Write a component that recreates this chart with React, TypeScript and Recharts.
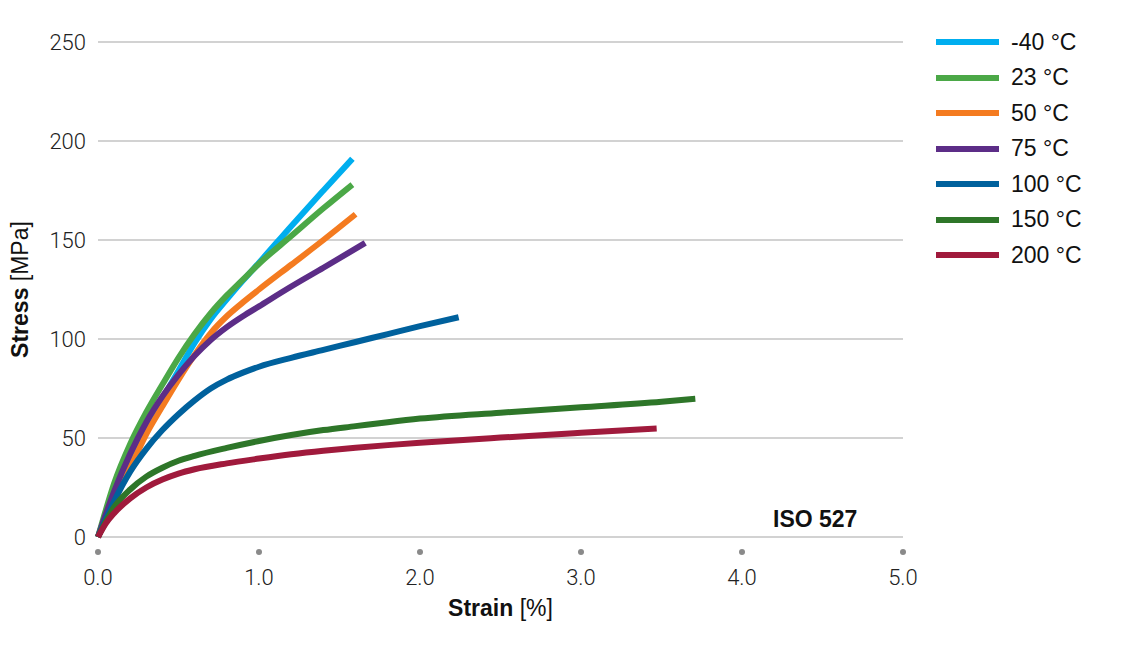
import { LineChart, Line, XAxis, YAxis, CartesianGrid } from "recharts"

const temps = ["-40 °C", "23 °C", "50 °C", "75 °C", "100 °C", "150 °C", "200 °C"]
const colors = ["#00AEEF", "#4BA847", "#F47B20", "#5C2D87", "#00619D", "#2E7629", "#A01A3C"]

// [strain %, stress MPa]
const m40 = [[0, 0], [0.1, 22], [0.2, 40], [0.3, 56], [0.4, 70], [0.5, 84], [0.6, 98], [0.7, 110], [0.8, 120], [0.9, 129.5], [1.0, 138.5], [1.2, 157], [1.4, 175], [1.58, 191]]
const p23 = [[0, 0], [0.05, 14], [0.1, 27], [0.2, 47], [0.3, 63], [0.4, 77], [0.5, 90.5], [0.6, 102.5], [0.7, 113], [0.8, 122], [0.9, 130], [1.0, 138], [1.2, 152], [1.4, 166], [1.58, 178]]
const p50 = [[0, 0], [0.1, 18], [0.2, 35], [0.3, 52], [0.4, 66], [0.5, 79.5], [0.6, 92], [0.7, 103], [0.8, 111.5], [0.9, 118.5], [1.0, 125], [1.2, 137.5], [1.4, 150], [1.6, 163]]
const p75 = [[0, 0], [0.1, 23], [0.2, 42], [0.3, 58], [0.4, 71], [0.5, 82], [0.6, 91.5], [0.7, 99.5], [0.8, 106], [0.9, 111.5], [1.0, 116.5], [1.2, 126.5], [1.4, 136], [1.66, 148.5]]
const p100 = [[0, 0], [0.1, 18], [0.2, 33], [0.3, 44.5], [0.4, 54], [0.5, 62], [0.6, 69], [0.7, 75], [0.8, 79.5], [0.9, 83], [1.0, 86], [1.2, 90.5], [1.4, 94.5], [1.6, 98.5], [1.8, 102.5], [2.0, 106.5], [2.24, 111]]
const p150 = [[0, 0], [0.1, 15], [0.2, 24], [0.3, 30.5], [0.4, 35], [0.5, 38.5], [0.6, 41], [0.8, 45], [1.0, 48.5], [1.2, 51.5], [1.4, 54], [1.6, 56], [1.8, 58], [2.0, 59.8], [2.5, 62.8], [3.0, 65.5], [3.5, 68.3], [3.71, 69.8]]
const p200 = [[0, 0], [0.05, 7], [0.1, 12], [0.2, 19.5], [0.3, 25], [0.4, 29], [0.5, 32], [0.6, 34.2], [0.8, 37.2], [1.0, 39.6], [1.2, 41.8], [1.4, 43.6], [1.6, 45.1], [1.8, 46.4], [2.0, 47.6], [2.5, 50.2], [3.0, 52.6], [3.47, 54.8]]

const xTicks = [0, 1, 2, 3, 4, 5]
const yTicks = [0, 50, 100, 150, 200, 250]

const series = [m40, p23, p50, p75, p100, p150, p200].map((pts, i) => ({
  name: temps[i],
  color: colors[i],
  data: pts.map(([x, y]) => ({ x, y })),
}))

const tickFont = "Roboto, 'Liberation Sans', sans-serif"
const font = "'Liberation Sans', Arial, sans-serif"

function XTick({ x, y, payload }: any) {
  return (
    <g>
      <circle cx={x} cy={y + 15} r={3} fill="#8a8a8a" />
      <text x={x} y={y + 48} textAnchor="middle" fontSize={22} fontWeight={300} fill="#222" fontFamily={tickFont}>
        {Number(payload.value).toFixed(1)}
      </text>
    </g>
  )
}

function YTick({ x, y, payload }: any) {
  return (
    <text x={x - 12} y={y} dy="0.36em" textAnchor="end" fontSize={22} fontWeight={300} fill="#222" fontFamily={tickFont}>
      {payload.value}
    </text>
  )
}

function YLabel({ viewBox }: any) {
  const cy = viewBox.y + viewBox.height / 2
  return (
    <text x={28} y={cy} transform={`rotate(-90 28 ${cy})`} textAnchor="middle" fontSize={23} fill="#111" fontFamily={font}>
      <tspan fontWeight={700}>Stress</tspan>
      <tspan> [MPa]</tspan>
    </text>
  )
}

function XLabel({ viewBox }: any) {
  const cx = viewBox.x + viewBox.width / 2
  return (
    <text x={cx} y={viewBox.y + 79} textAnchor="middle" fontSize={23} fill="#111" fontFamily={font}>
      <tspan fontWeight={700}>Strain</tspan>
      <tspan> [%]</tspan>
    </text>
  )
}

export default function App() {
  return (
    <div style={{ position: "absolute", left: 0, top: 0, width: 1146, height: 663, background: "#fff" }}>
      <LineChart width={1146} height={663} margin={{ top: 42, right: 243, bottom: 66, left: 0 }}>
        <CartesianGrid vertical={false} stroke="#a6a6a6" strokeWidth={1.2} />
        <XAxis
          type="number"
          dataKey="x"
          domain={[0, 5]}
          ticks={xTicks}
          axisLine={false}
          tickLine={false}
          tickSize={0}
          tickMargin={0}
          height={60}
          tick={<XTick />}
          label={<XLabel />}
        />
        <YAxis
          type="number"
          domain={[0, 250]}
          ticks={yTicks}
          axisLine={false}
          tickLine={false}
          tickSize={0}
          tickMargin={0}
          width={98}
          tick={<YTick />}
          label={<YLabel />}
        />
        {series.map((s) => (
          <Line
            key={s.name}
            data={s.data}
            dataKey="y"
            name={s.name}
            type="monotone"
            stroke={s.color}
            strokeWidth={6}
            dot={false}
            activeDot={false}
            isAnimationActive={false}
          />
        ))}
      </LineChart>
      <div style={{ position: "absolute", left: 773, top: 506, fontSize: 23, fontWeight: 700, fontFamily: font, color: "#111" }}>
        ISO 527
      </div>
      {series.map((s, i) => (
        <div key={s.name} style={{ position: "absolute", left: 936, top: 42 + i * 35.5 - 15, height: 30, display: "flex", alignItems: "center" }}>
          <div style={{ width: 63, height: 6, background: s.color }} />
          <span style={{ marginLeft: 12, fontSize: 23, fontFamily: font, color: "#111" }}>{s.name}</span>
        </div>
      ))}
    </div>
  )
}
